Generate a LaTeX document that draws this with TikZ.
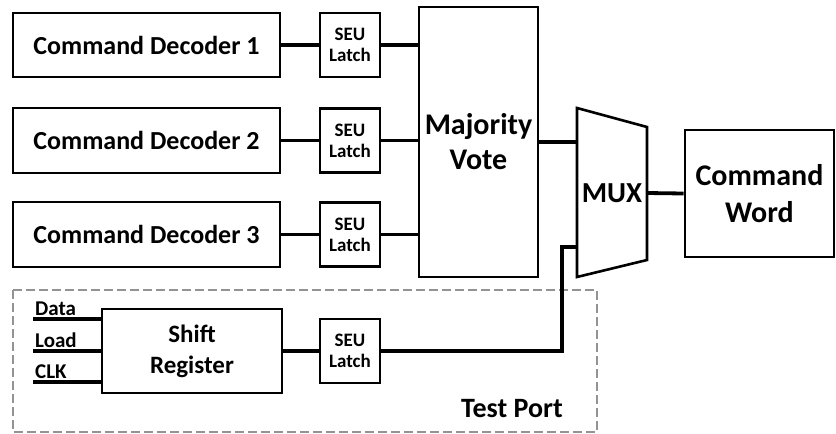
\documentclass[tikz,border=0pt]{standalone}
\usepackage{fontspec}
\setmainfont{Carlito}
\begin{document}
\begin{tikzpicture}[x=1pt,y=-1pt,
  box/.style={draw,line width=2.6pt,inner sep=0pt,align=center},
  wire/.style={line width=3.8pt},
  big/.style={font=\fontsize{26}{30}\selectfont\bfseries},
  small/.style={font=\fontsize{19}{21}\selectfont\bfseries},
  latch/.style={box,small,minimum width=60pt,minimum height=64pt}]
\useasboundingbox (0,0) rectangle (836,434);
% test port frame
\draw[gray!85,line width=1.6pt,dash pattern=on 9pt off 4pt] (13,290) rectangle (597,432);
\node[font=\fontsize{28}{32}\selectfont\bfseries] (tp) at (512,409) {Test Port};
% decoders
\node[box,big,minimum width=267pt,minimum height=64pt] (cd1) at (146.5,45) {Command Decoder 1};
\node[box,big,minimum width=267pt,minimum height=65pt] (cd2) at (146.5,140.5) {Command Decoder 2};
\node[box,big,minimum width=267pt,minimum height=65pt] (cd3) at (146.5,234.5) {Command Decoder 3};
\node[latch] (l1) at (350,45) {SEU\\Latch};
\node[latch] (l2) at (350,140.5) {SEU\\Latch};
\node[latch] (l3) at (350,234.5) {SEU\\Latch};
\node[latch] (l4) at (350,351) {SEU\\Latch};
\node[box,font=\fontsize{30}{35}\selectfont\bfseries,minimum width=119pt,minimum height=270pt] (maj) at (478.5,142) {Majority\\Vote};
\node[box,font=\fontsize{30}{37}\selectfont\bfseries,minimum width=149pt,minimum height=127pt] (cw) at (759.5,193.5) {Command\\Word};
\node[box,font=\fontsize{25}{31}\selectfont\bfseries,minimum width=180pt,minimum height=84pt] (sr) at (192,351) {Shift\\Register};
% MUX
\coordinate (mtl) at (577,108);
\coordinate (mbl) at (577,277);
\coordinate (mtr) at (647,127);
\coordinate (mbr) at (647,260);
\draw[line width=2.6pt,line join=miter] (mtl) -- (mtr) -- (mbr) -- (mbl) -- cycle;
\node[font=\fontsize{29}{32}\selectfont\bfseries] (mux) at (612,193) {MUX};
\coordinate (muxout) at (647,193);
\coordinate (muxin) at (577,247);
\coordinate (bend) at (562,247);
% wires
\draw[wire] (cd1.east) -- (l1.west);
\draw[wire] (cd2.east) -- (l2.west);
\draw[wire] (cd3.east) -- (l3.west);
\draw[wire] (l1.east) -- (l1.east -| maj.west);
\draw[wire] (l2.east) -- (l2.east -| maj.west);
\draw[wire] (l3.east) -- (l3.east -| maj.west);
\draw[wire] (maj.east) -- (maj.east -| mtl);
\draw[wire] (muxout) -- (cw.west);
\draw[wire] (sr.east) -- (l4.west);
\draw[wire,line join=miter] (l4.east) -| (bend) -- (muxin);
% inputs
\coordinate (din) at (33,319);
\coordinate (lin) at (33,351);
\coordinate (cin) at (33,382);
\draw[wire] (din) -- (din -| sr.west);
\draw[wire] (lin) -- (lin -| sr.west);
\draw[wire] (cin) -- (cin -| sr.west);
\node[font=\fontsize{21}{24}\selectfont\bfseries,anchor=base west,inner sep=0pt] (dl) at (35,315) {Data};
\node[font=\fontsize{21}{24}\selectfont\bfseries,anchor=base west,inner sep=0pt] (ll) at (35,347) {Load};
\node[font=\fontsize{21}{24}\selectfont\bfseries,anchor=base west,inner sep=0pt] (cl) at (35,378) {CLK};
\end{tikzpicture}
\end{document}
